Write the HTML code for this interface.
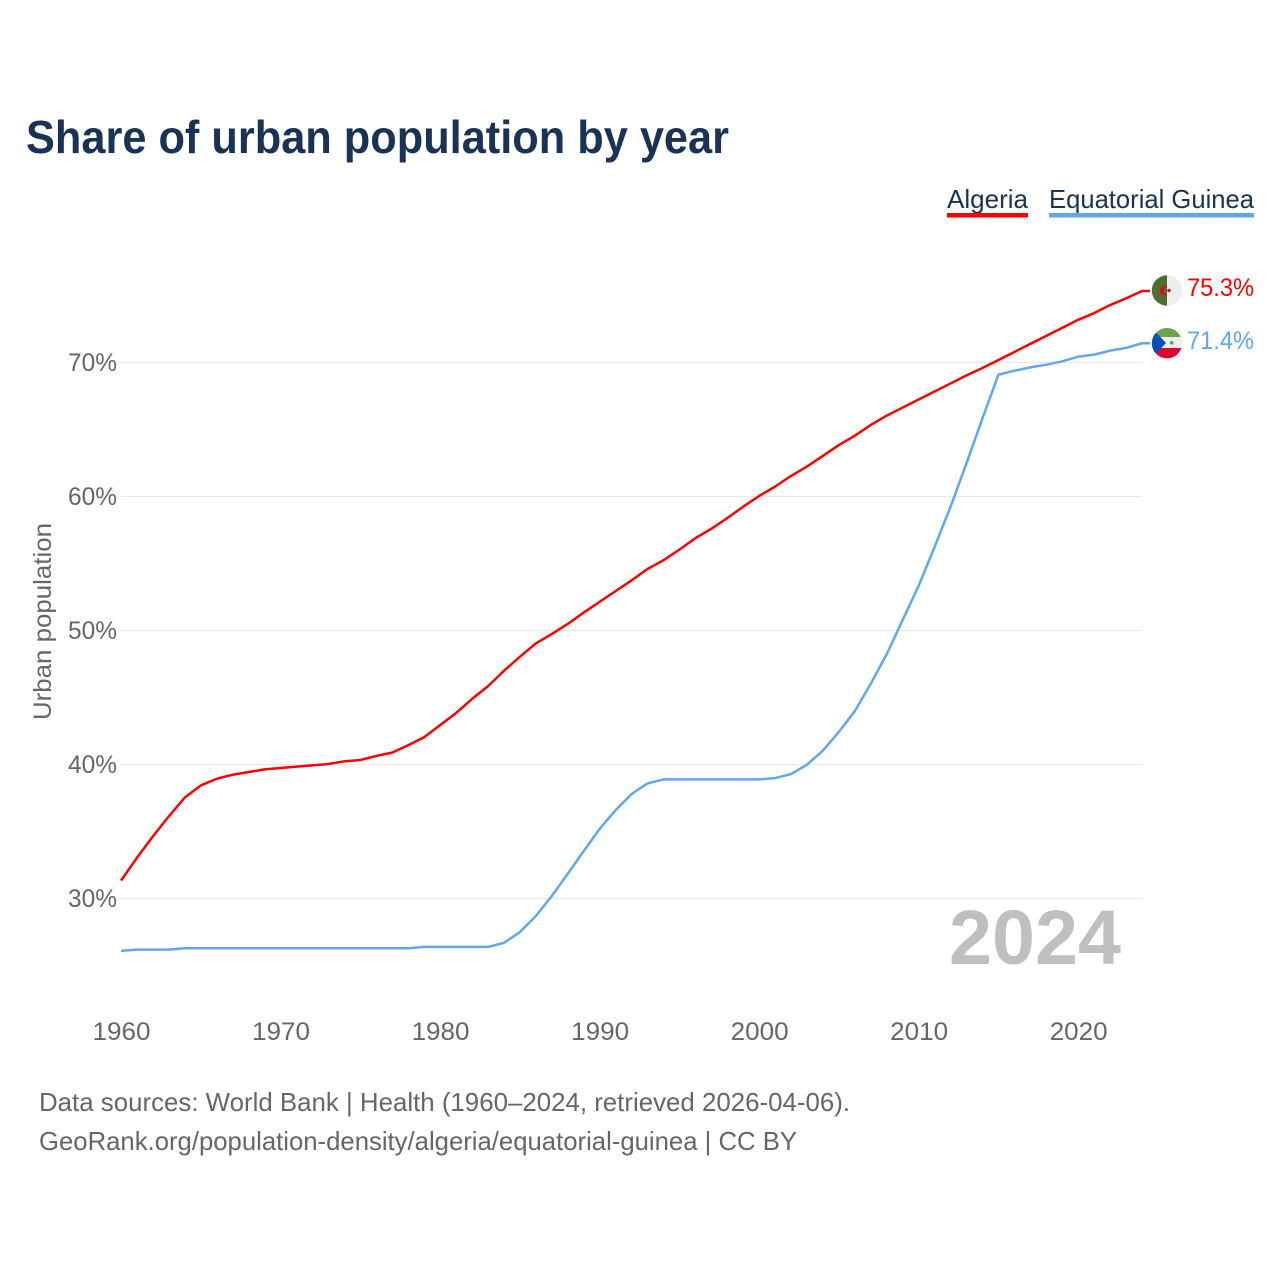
<!DOCTYPE html>
<html lang="en">
<head>
<meta charset="utf-8">
<title>Share of urban population by year</title>
<style>
html,body{margin:0;padding:0;background:#fff;}
svg{display:block;font-family:"Liberation Sans",sans-serif;}
</style>
</head>
<body>
<svg id="chart" xmlns="http://www.w3.org/2000/svg" width="1280" height="1280" viewBox="0 0 1280 1280">
  <rect width="1280" height="1280" fill="#ffffff"/>
  <text x="26" y="153" font-size="46" font-weight="700" fill="#1a3354" textLength="703" lengthAdjust="spacingAndGlyphs">Share of urban population by year</text>

  <g>
    <text x="947" y="208" font-size="26" fill="#1a3354" textLength="81" lengthAdjust="spacingAndGlyphs">Algeria</text>
    <rect x="947" y="213" width="81" height="4.5" fill="#ff0000"/>
  </g>
  <g>
    <text x="1049" y="208" font-size="26" fill="#1a3354" textLength="205" lengthAdjust="spacingAndGlyphs">Equatorial Guinea</text>
    <rect x="1049" y="213" width="205" height="4.5" fill="#62a6ec"/>
  </g>

  <g id="grid"></g>
  <g id="yticks"></g>
  <g id="xticks"></g>
  <text transform="translate(51,720) rotate(-90)" font-size="25" fill="#666666" textLength="197" lengthAdjust="spacingAndGlyphs">Urban population</text>

  <text x="949" y="964" font-size="77" font-weight="700" fill="#bfbfbf" textLength="172" lengthAdjust="spacingAndGlyphs">2024</text>

  <g id="series"></g>

  <defs>
    <clipPath id="flag-clip-dz"><circle cx="1167" cy="290.5" r="15.2"/></clipPath>
    <clipPath id="flag-clip-gq"><circle cx="1167" cy="343.2" r="15.2"/></clipPath>
  </defs>
  <g clip-path="url(#flag-clip-dz)">
    <rect x="1151" y="275" width="16" height="31" fill="#4f6f2f"/>
    <rect x="1167" y="275" width="15" height="31" fill="#eeeeee"/>
    <path d="M1167.5 286.4 A5 5 0 1 0 1167.5 294.6 A4 4 0 1 1 1167.5 286.4 Z" fill="#d2102c"/>
    <circle cx="1169" cy="290.5" r="1.7" fill="#d2102c"/>
  </g>
  <g clip-path="url(#flag-clip-gq)">
    <rect x="1151" y="327" width="31" height="10" fill="#6fa34a"/>
    <rect x="1151" y="337" width="31" height="11" fill="#eeeeee"/>
    <rect x="1151" y="348" width="31" height="11" fill="#dc0a2e"/>
    <polygon points="1151,327 1166,343 1151,359" fill="#0b4fb3"/>
    <circle cx="1171.7" cy="342.8" r="1.8" fill="#6f8f6a"/>
  </g>
  <text x="1187" y="296" font-size="25" fill="#ff0000" textLength="67" lengthAdjust="spacingAndGlyphs">75.3%</text>
  <text x="1187" y="349" font-size="25" fill="#62a6ec" textLength="67" lengthAdjust="spacingAndGlyphs">71.4%</text>

  <text x="39" y="1111" font-size="26" fill="#666666" textLength="811" lengthAdjust="spacingAndGlyphs">Data sources: World Bank | Health (1960–2024, retrieved 2026-04-06).</text>
  <text x="39" y="1150" font-size="26" fill="#666666" textLength="758" lengthAdjust="spacingAndGlyphs">GeoRank.org/population-density/algeria/equatorial-guinea | CC BY</text>
</svg>
<script>
const startYear = 1960;
const yTickValues = [30, 40, 50, 60, 70];
const xTickValues = [1960, 1970, 1980, 1990, 2000, 2010, 2020];
const algeria = [31.3,33.0,34.6,36.1,37.5,38.4,38.9,39.2,39.4,39.6,39.7,39.8,39.9,40.0,40.2,40.3,40.6,40.85,41.4,42.0,42.9,43.8,44.85,45.8,46.95,48.0,49.0,49.7,50.45,51.3,52.1,52.9,53.7,54.55,55.2,56.0,56.85,57.55,58.35,59.2,60.0,60.7,61.5,62.2,63.0,63.8,64.5,65.3,66.0,66.6,67.2,67.8,68.4,69.0,69.55,70.15,70.75,71.35,71.95,72.55,73.15,73.65,74.25,74.75,75.3];
const equatorialGuinea = [26.05,26.15,26.15,26.15,26.25,26.25,26.25,26.25,26.25,26.25,26.25,26.25,26.25,26.25,26.25,26.25,26.25,26.25,26.25,26.35,26.35,26.35,26.35,26.35,26.65,27.45,28.65,30.15,31.8,33.5,35.15,36.55,37.75,38.55,38.85,38.85,38.85,38.85,38.85,38.85,38.85,38.95,39.25,39.95,41.0,42.4,43.95,46.0,48.2,50.75,53.3,56.2,59.2,62.45,65.8,69.05,69.35,69.6,69.8,70.05,70.4,70.55,70.85,71.05,71.4];

const NS = 'http://www.w3.org/2000/svg';
function xScale(year) { return 121 + (year - 1960) * (1142 - 121) / 64; }
function yScale(value) { return 362 + (70 - value) * 13.4; }

const gridGroup = document.getElementById('grid');
const yTickGroup = document.getElementById('yticks');
const xTickGroup = document.getElementById('xticks');
const seriesGroup = document.getElementById('series');

yTickValues.forEach(function (value) {
  const line = document.createElementNS(NS, 'line');
  
  
  line.setAttribute('x1', 121);
  line.setAttribute('x2', 1142);
  line.setAttribute('y1', Math.round(yScale(value)) + 0.5);
  line.setAttribute('y2', Math.round(yScale(value)) + 0.5);
  line.setAttribute('stroke', '#e8e8e8');
  line.setAttribute('stroke-width', 1);
  gridGroup.appendChild(line);

  const label = document.createElementNS(NS, 'text');
  
  
  label.setAttribute('x', 68);
  label.setAttribute('y', yScale(value) + 9);
  label.setAttribute('font-size', 25);
  label.setAttribute('fill', '#666666');
  label.setAttribute('textLength', 49);
  label.setAttribute('lengthAdjust', 'spacingAndGlyphs');
  label.textContent = value + '%';
  yTickGroup.appendChild(label);
});

xTickValues.forEach(function (year) {
  const label = document.createElementNS(NS, 'text');
  
  
  label.setAttribute('x', xScale(year) - 28.5);
  label.setAttribute('y', 1040);
  label.setAttribute('font-size', 25);
  label.setAttribute('fill', '#666666');
  label.setAttribute('textLength', 58);
  label.setAttribute('lengthAdjust', 'spacingAndGlyphs');
  label.textContent = year;
  xTickGroup.appendChild(label);
});

function seriesPath(values) {
  const parts = values.map(function (value, i) {
    return (i ? 'L' : 'M') + xScale(startYear + i).toFixed(2) + ' ' + yScale(value).toFixed(2);
  });
  parts.push('L' + (xScale(startYear + values.length - 1) + 8).toFixed(2) + ' ' + yScale(values[values.length - 1]).toFixed(2));
  return parts.join(' ');
}

const algeriaLine = document.createElementNS(NS, 'path');


algeriaLine.setAttribute('d', seriesPath(algeria));
algeriaLine.setAttribute('fill', 'none');
algeriaLine.setAttribute('stroke', '#ff0000');
algeriaLine.setAttribute('stroke-width', 2.5);
algeriaLine.setAttribute('stroke-linejoin', 'round');
seriesGroup.appendChild(algeriaLine);

const guineaLine = document.createElementNS(NS, 'path');


guineaLine.setAttribute('d', seriesPath(equatorialGuinea));
guineaLine.setAttribute('fill', 'none');
guineaLine.setAttribute('stroke', '#62a6ec');
guineaLine.setAttribute('stroke-width', 2.5);
guineaLine.setAttribute('stroke-linejoin', 'round');
seriesGroup.appendChild(guineaLine);
</script>
</body>
</html>
